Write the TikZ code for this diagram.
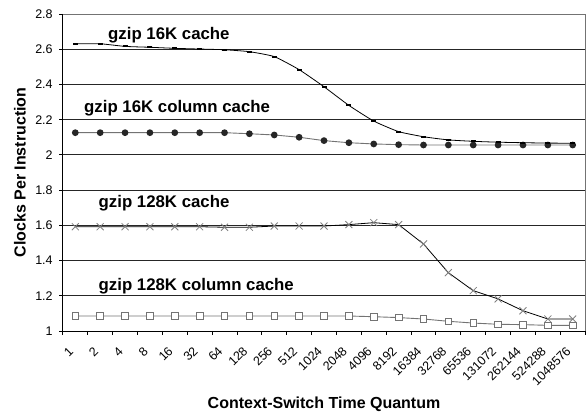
\documentclass[tikz,border=0pt]{standalone}
\usepackage{fontspec}
\setmainfont{Liberation Sans}
\begin{document}
\begin{tikzpicture}[x=1pt,y=1pt,
  gridline/.style={black!85,line width=0.8pt},
  frameline/.style={black!55,line width=0.9pt},
  axisline/.style={black,line width=0.9pt},
  ticklab/.style={font=\fontsize{12.5}{14}\selectfont, inner sep=0pt},
  serieslabel/.style={font=\fontsize{16.8}{18}\selectfont\bfseries, inner sep=0pt, anchor=base west},
  axistitle/.style={font=\fontsize{16}{18}\selectfont\bfseries, inner sep=0pt, anchor=base},
  blackline/.style={black,line width=0.8pt},
  grayline/.style={black!55,line width=0.9pt},
  dashmark/.style={fill=black},
  dotmark/.style={fill=black!85},
  xmark/.style={draw=black!50,line width=0.8pt},
  sqmark/.style={draw=black!55,fill=white,line width=0.8pt}
]
\useasboundingbox (0,0) rectangle (586,414);

\begin{scope}[x=24.87pt, y=176.1pt, shift={(75.3pt,-93.08pt)}]
  % gridlines
  \foreach \g in {1.2,1.4,1.6,1.8,2.0,2.2,2.4,2.6}
    \draw[gridline] (-0.5,\g) -- (20.5,\g);
  \draw[frameline] (-0.5,2.8) -- (20.5,2.8) -- (20.5,1);
  % y axis, ticks and labels
  \foreach \g/\t [count=\k] in {1/1,1.2/1.2,1.4/1.4,1.6/1.6,1.8/1.8,2.0/2,2.2/2.2,2.4/2.4,2.6/2.6,2.8/2.8} {
    \draw[axisline] (-0.5,\g) -- ++(-4pt,0);
    \node[ticklab, anchor=east] (ylab\k) at ([xshift=-10pt]-0.5,\g) {\t};
  }
  % x axis ticks and labels
  \foreach \i in {0,...,21}
    \draw[axisline] (\i-0.5,1) -- ++(0,-4pt);
  \foreach \t [count=\i from 0] in {1,2,4,8,16,32,64,128,256,512,1024,2048,4096,8192,16384,32768,65536,131072,262144,524288,1048576}
    \node[ticklab, rotate=45, anchor=base east] (xlab\i) at ([xshift=-1pt,yshift=-21pt]\i,1) {\t};
  \draw[axisline] (-0.5,2.8) -- (-0.5,1) -- (20.5,1);

  % gzip 16K column cache
  \draw[grayline] plot coordinates {(0,2.126) (1,2.126) (2,2.126) (3,2.126) (4,2.126) (5,2.126) (6,2.126) (7,2.120) (8,2.113) (9,2.100) (10,2.081) (11,2.069) (12,2.062) (13,2.058) (14,2.056) (15,2.056) (16,2.056) (17,2.056) (18,2.056) (19,2.056) (20,2.056)};
  \foreach \v [count=\i from 0] in {2.126,2.126,2.126,2.126,2.126,2.126,2.126,2.120,2.113,2.100,2.081,2.069,2.062,2.058,2.056,2.056,2.056,2.056,2.056,2.056,2.056}
    \fill[dotmark] (\i,\v) circle[radius=3.4pt];

  % gzip 16K cache
  \draw[blackline] plot[smooth, tension=0.3] coordinates {(0,2.631) (1,2.631) (2,2.616) (3,2.611) (4,2.605) (5,2.601) (6,2.597) (7,2.586) (8,2.558) (9,2.484) (10,2.387) (11,2.281) (12,2.192) (13,2.132) (14,2.103) (15,2.085) (16,2.077) (17,2.072) (18,2.069) (19,2.067) (20,2.066)};
  \foreach \v [count=\i from 0] in {2.631,2.631,2.616,2.611,2.605,2.601,2.597,2.586,2.558,2.484,2.387,2.281,2.192,2.132,2.103,2.085,2.077,2.072,2.069,2.067,2.066}
    \fill[dashmark] ([xshift=-2.5pt,yshift=-1.1pt]\i,\v) rectangle ++(5pt,2.2pt);

  % gzip 128K column cache
  \draw[grayline] plot coordinates {(0,1.085) (1,1.085) (2,1.085) (3,1.085) (4,1.085) (5,1.085) (6,1.085) (7,1.085) (8,1.085) (9,1.085) (10,1.085) (11,1.085) (12,1.081) (13,1.076) (14,1.068) (15,1.055) (16,1.045) (17,1.038) (18,1.036) (19,1.032) (20,1.032)};
  \foreach \v [count=\i from 0] in {1.085,1.085,1.085,1.085,1.085,1.085,1.085,1.085,1.085,1.085,1.085,1.085,1.081,1.076,1.068,1.055,1.045,1.038,1.036,1.032,1.032}
    \draw[sqmark] ([xshift=-3.3pt,yshift=-3.3pt]\i,\v) rectangle ++(6.6pt,6.6pt);

  % gzip 128K cache
  \draw[blackline] plot coordinates {(0,1.592) (1,1.592) (2,1.592) (3,1.592) (4,1.592) (5,1.592) (6,1.589) (7,1.589) (8,1.596) (9,1.596) (10,1.596) (11,1.604) (12,1.615) (13,1.604) (14,1.494) (15,1.331) (16,1.229) (17,1.182) (18,1.115) (19,1.068) (20,1.068)};
  \foreach \v [count=\i from 0] in {1.592,1.592,1.592,1.592,1.592,1.592,1.589,1.589,1.596,1.596,1.596,1.604,1.615,1.604,1.494,1.331,1.229,1.182,1.115,1.068,1.068}
    \draw[xmark] ([xshift=-3.5pt,yshift=-3.5pt]\i,\v) -- ++(7pt,7pt) ++(-7pt,0) -- ++(7pt,-7pt);
\end{scope}

% series labels
\node[serieslabel] (lab16) at (108,374) {gzip 16K cache};
\node[serieslabel] (lab16c) at (84,301) {gzip 16K column cache};
\node[serieslabel] (lab128) at (98.5,206) {gzip 128K cache};
\node[serieslabel] (lab128c) at (98.5,123.5) {gzip 128K column cache};

% axis titles
\node[axistitle] (xtitle) at (324,5) {Context-Switch Time Quantum};
\node[axistitle, rotate=90] (ytitle) at (25.5,241.5) {Clocks Per Instruction};
\end{tikzpicture}
\end{document}
